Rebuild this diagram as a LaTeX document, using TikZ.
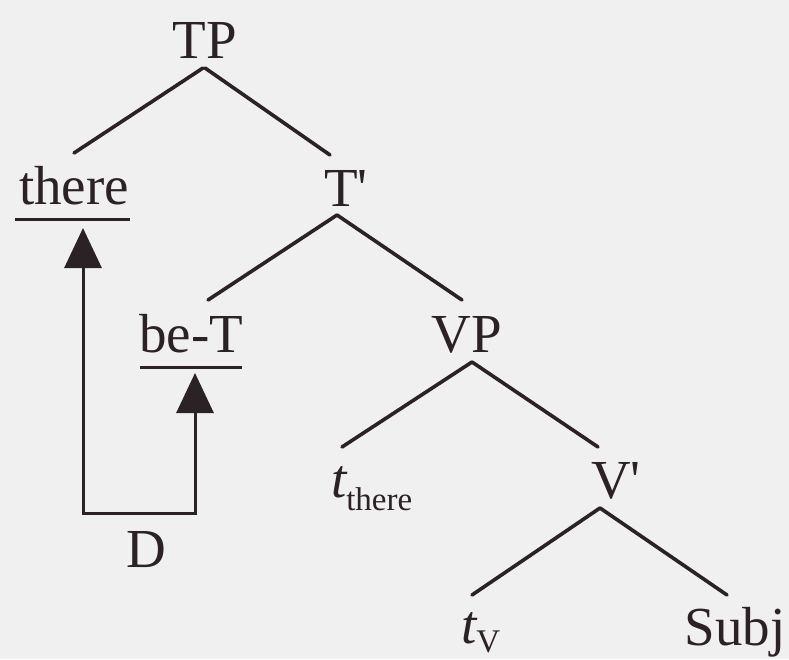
\documentclass[tikz,border=0pt]{standalone}
\usepackage{fontspec}
\setmainfont{Liberation Serif}
\usetikzlibrary{arrows.meta,calc}
\definecolor{ink}{HTML}{2B2226}
\definecolor{paper}{HTML}{F1F0F1}
\tikzset{
  lbl/.style={anchor=base, inner sep=0pt, outer sep=0pt, text=ink, font=\fontsize{55}{66}\selectfont},
  branch/.style={draw=ink, line width=3.6pt, line cap=round},
  uline/.style={draw=ink, line width=3pt},
  movearrow/.style={draw=ink, line width=3pt, line join=miter,
     {Triangle[width=37pt,length=40pt]}-{Triangle[width=37pt,length=40pt]}}
}
\newcommand{\subtxt}[2][-13pt]{{\fontsize{33}{33}\selectfont\raisebox{#1}{#2}}}
\begin{document}
\begin{tikzpicture}[x=1pt,y=-1pt]
\fill[paper] (0,0) rectangle (789,659);
\useasboundingbox (0,0) rectangle (789,659);

\node[lbl] (TP) at (205,58) {TP};
\node[lbl] (there) at (74,204) {there};
\node[lbl] (Tbar) at (346,206) {T\textquotesingle};
\node[lbl] (beT) at (191,352) {be-T};
\node[lbl] (VP) at (467,352) {VP};
\node[lbl, anchor=base west] (tthere) at (331,497) {\itshape t\subtxt{\upshape there}};
\node[lbl] (Vbar) at (616,498) {V\textquotesingle};
\node[lbl, anchor=base west] (tV) at (461,643) {\itshape t\subtxt[-9pt]{\upshape V}};
\node[lbl] (Subj) at (735,645) {Subj};
\node[lbl] (D) at (146,567) {D};

% tree branches
\draw[branch] ($(TP.base)+(-2,10)$) -- ($(there.base)+(0,-51)$);
\draw[branch] ($(TP.base)+(0,10)$) -- ($(Tbar.base)+(-16,-51)$);
\draw[branch] ($(Tbar.base)+(-9,9)$) -- ($(beT.base)+(17,-52)$);
\draw[branch] ($(Tbar.base)+(-9,9)$) -- ($(VP.base)+(-5,-52)$);
\draw[branch] ($(VP.base)+(5,10)$) -- ($(tthere.base west)+(11,-50)$);
\draw[branch] ($(VP.base)+(5,10)$) -- ($(Vbar.base)+(-18,-51)$);
\draw[branch] ($(Vbar.base)+(-16,10)$) -- ($(tV.base west)+(11,-48)$);
\draw[branch] ($(Vbar.base)+(-16,10)$) -- ($(Subj.base)+(-8,-50)$);

% underlines
\draw[uline] ($(there.base)+(-59,15)$) -- ($(there.base)+(56,15)$);
\draw[uline] ($(beT.base)+(-51,15)$) -- ($(beT.base)+(51,15)$);

% movement arrows
\coordinate (corner) at (195,513);
\draw[movearrow] ($(there.base)+(9,24)$) |- (corner) -- ($(beT.base)+(4,21)$);
\end{tikzpicture}
\end{document}
